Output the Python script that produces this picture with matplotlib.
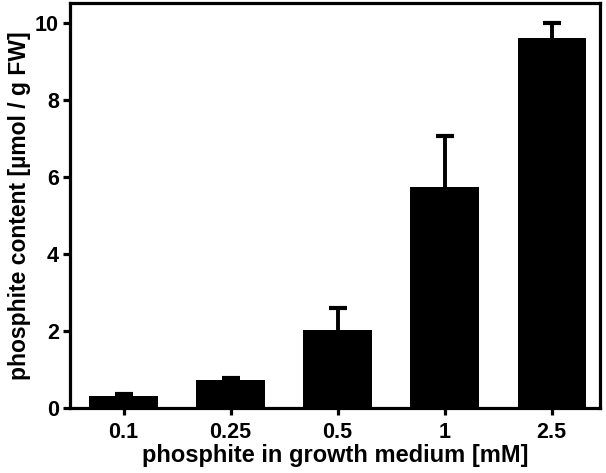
import matplotlib
matplotlib.use("Agg")
import matplotlib.pyplot as plt

plt.rcParams["font.family"] = ["Liberation Sans", "DejaVu Sans"]
plt.rcParams["font.weight"] = "bold"

# data
concentrations = ["0.1", "0.25", "0.5", "1", "2.5"]
content = [0.32, 0.72, 2.03, 5.73, 9.61]
sem = [0.04, 0.05, 0.58, 1.33, 0.38]

fig = plt.figure(figsize=(6.06, 4.73), dpi=100)
ax = fig.add_axes([0.1155, 0.1374, 0.8745, 0.8563])

x = list(range(len(concentrations)))
tops = [c + e for c, e in zip(content, sem)]

ax.bar(x, content, width=0.64, color="black", zorder=2)
# upper error bars only
ax.vlines(x, content, tops, color="black", linewidth=2.8, zorder=1)
ax.plot(x, tops, linestyle="none", marker="_", markersize=13,
        markeredgewidth=3, color="black", zorder=1)

ax.set_xlim(-0.5, 4.45)
ax.set_ylim(0, 10.52)
ax.set_yticks([0, 2, 4, 6, 8, 10])
ax.set_xticks(x)
ax.set_xticklabels(concentrations)

for s in ax.spines.values():
    s.set_linewidth(2.3)
ax.tick_params(width=2.3, length=5, labelsize=15.5, direction="out", pad=3)
ax.tick_params(axis="x", pad=5)
for lab in ax.get_xticklabels() + ax.get_yticklabels():
    lab.set_fontweight("bold")

ax.set_xlabel("phosphite in growth medium [mM]", fontsize=17,
              fontweight="bold", labelpad=1)
ax.set_ylabel("phosphite content [\u00b5mol / g FW]", fontsize=16.5,
              fontweight="bold", labelpad=3)

fig.savefig("out.png", dpi=100)
